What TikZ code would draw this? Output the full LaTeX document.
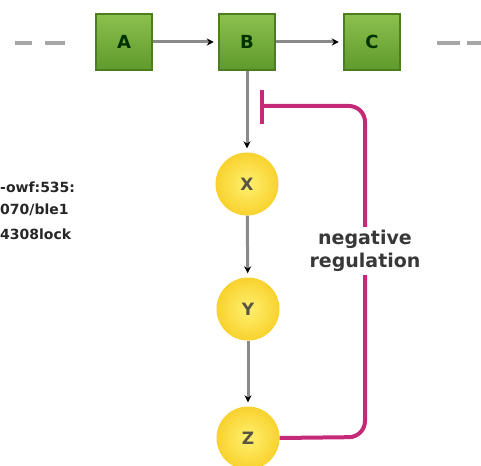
\documentclass[tikz,border=0pt]{standalone}
\usepackage{fontspec}
\setmainfont{DejaVu Sans}
\usetikzlibrary{arrows.meta}
\definecolor{boxtop}{HTML}{8CC04E}
\definecolor{boxbot}{HTML}{5F9A2C}
\definecolor{boxedge}{HTML}{4C7D1E}
\definecolor{ballin}{HTML}{FFF070}
\definecolor{ballout}{HTML}{F8D22E}
\definecolor{regpink}{HTML}{C42A78}
\definecolor{linkgrey}{HTML}{8A8A8A}
\tikzset{
  genebox/.style={rectangle, minimum size=56pt, inner sep=0pt,
    draw=boxedge, line width=2.5pt, top color=boxtop, bottom color=boxbot,
    font=\fontsize{18}{18}\selectfont\bfseries, text=black!80!green},
  ball/.style={circle, minimum size=63pt, inner sep=0pt,
    inner color=ballin, outer color=ballout,
    font=\fontsize{17}{17}\selectfont\bfseries, text=black!75!yellow},
  link/.style={draw=linkgrey, line width=3pt,
    -{Stealth[length=7pt,width=7pt,black]}, shorten >=4pt},
  dashpart/.style={draw=gray!70, line width=4.5pt},
  inhibit/.style={draw=regpink, line width=4pt, rounded corners=16pt},
  reglabel/.style={fill=white, align=center, inner sep=3pt,
    font=\fontsize{19}{23}\selectfont\bfseries, text=black!78},
  sidetext/.style={anchor=west, inner sep=0pt, text=black!85,
    font=\fontsize{14}{14}\selectfont\bfseries}
}
\begin{document}
\begin{tikzpicture}[x=1pt,y=-1pt]
  \useasboundingbox (0,0) rectangle (481,465);

  % chain continues on both sides
  \draw[dashpart] (15,43) -- (32,43);
  \draw[dashpart] (45,43) -- (65,43);
  \draw[dashpart] (437,43) -- (460,43);
  \draw[dashpart] (467,43) -- (490,43);

  % pathway nodes
  \node[genebox] (A) at (124,42) {A};
  \node[genebox] (B) at (247,42) {B};
  \node[genebox] (C) at (372,42) {C};
  \node[ball] (X) at (247,184) {X};
  \node[ball] (Y) at (248,309) {Y};
  \node[ball] (Z) at (248,438) {Z};

  % forward links
  \draw[link] (A) -- (B);
  \draw[link] (B) -- (C);
  \draw[link] (B) -- (X);
  \draw[link] (X) -- (Y);
  \draw[link] (Y) -- (Z);

  % feedback from Z back onto the B -> X link
  \coordinate (tbar) at (262,106);
  \coordinate (corner1) at (365,106);
  \coordinate (corner2) at (365,437);
  \draw[inhibit] (Z.east) -- (corner2) -- (corner1) -- (tbar);
  \draw[draw=regpink, line width=4pt] (262,90) -- (262,124);
  \node[reglabel] (lab) at (365,251) {negative\\regulation};

  % side notes
  \node[sidetext] (n1) at (0,187) {-owf:535:};
  \node[sidetext] (n2) at (0,210) {070/ble1};
  \node[sidetext] (n3) at (0,234) {4308lock};
\end{tikzpicture}
\end{document}
